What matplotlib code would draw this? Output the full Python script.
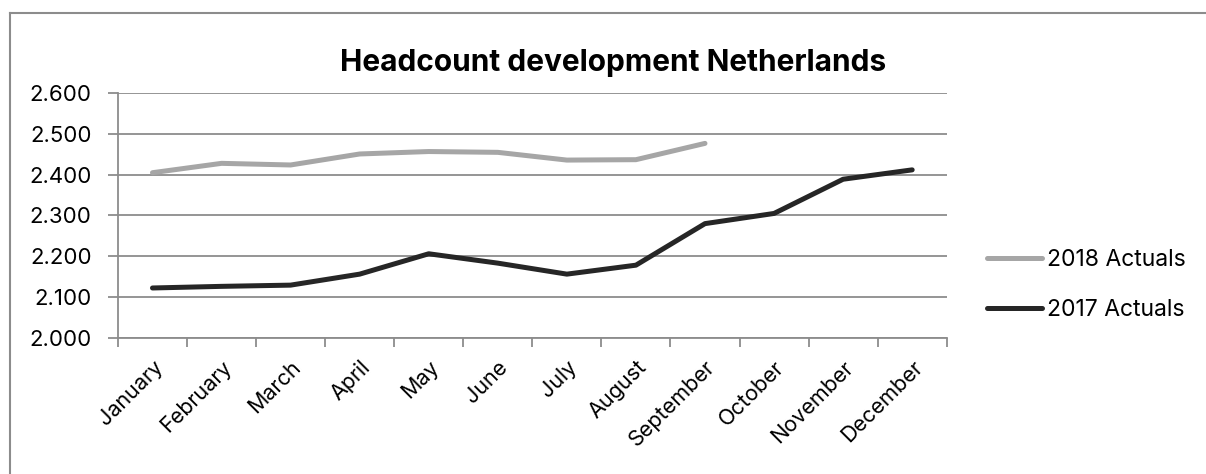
import matplotlib
matplotlib.use("Agg")
import matplotlib.pyplot as plt
from matplotlib.ticker import FuncFormatter, FixedLocator
from matplotlib.lines import Line2D

plt.rcParams['font.family'] = ['Inter', 'DejaVu Sans']

months = ["January", "February", "March", "April", "May", "June",
          "July", "August", "September", "October", "November", "December"]
actuals_2018 = [2405, 2428, 2424, 2451, 2457, 2455, 2436, 2437, 2477]
actuals_2017 = [2122, 2126, 2129, 2156, 2206, 2183, 2156, 2178, 2280, 2305, 2389, 2412]
y_ticks = [2000, 2100, 2200, 2300, 2400, 2500, 2600]

grid_col = "#8c8c8c"

fig = plt.figure(figsize=(12.06, 4.74), dpi=100)
ax = fig.add_axes([0.0978, 0.2876, 0.6872, 0.5156])

x17 = list(range(len(actuals_2017)))
x18 = list(range(len(actuals_2018)))
ax.plot(x18, actuals_2018, color="#a6a6a6", lw=3.6, solid_capstyle="round",
        solid_joinstyle="round", label="2018 Actuals", zorder=3)
ax.plot(x17, actuals_2017, color="#262626", lw=3.6, solid_capstyle="round",
        solid_joinstyle="round", label="2017 Actuals", zorder=3)

ax.set_xlim(-0.5, len(months) - 0.5)
ax.set_ylim(y_ticks[0], y_ticks[-1])
ax.yaxis.set_major_locator(FixedLocator(y_ticks))
ax.yaxis.set_major_formatter(FuncFormatter(lambda v, p: f"{int(v):,}".replace(",", ".")))
ax.grid(axis="y", color=grid_col, lw=1.3)
ax.set_axisbelow(True)

# category labels at centers, tick marks at the boundaries
ax.set_xticks(range(len(months)))
ax.set_xticklabels(months, rotation=45, ha="right", rotation_mode="anchor")
ax.tick_params(axis="x", which="major", length=0, pad=14, labelsize=15.5)
ax.set_xticks([i - 0.5 for i in range(len(months) + 1)], minor=True)
ax.tick_params(axis="x", which="minor", length=6.5, width=1.3, color=grid_col)
ax.tick_params(axis="y", length=7, width=1.3, color=grid_col, labelsize=16, pad=12)

for s in ["top", "right"]:
    ax.spines[s].set_visible(False)
for s in ["left", "bottom"]:
    ax.spines[s].set_color(grid_col)
    ax.spines[s].set_linewidth(1.3)

fig.text(0.508, 0.868, "Headcount development Netherlands", ha="center", va="center",
         fontsize=21.5, fontweight="bold")

fig.legend(loc="center left", bbox_to_anchor=(0.809, 0.399), frameon=False,
           fontsize=16.5, handlelength=2.4, handletextpad=0.2, labelspacing=1.2,
           borderpad=0)

# outer chart border (top and left edges are visible)
fig.add_artist(Line2D([0.0083, 1.0], [0.973, 0.973], color=grid_col, lw=1.5,
                      transform=fig.transFigure))
fig.add_artist(Line2D([0.0083, 0.0083], [0.0, 0.973], color=grid_col, lw=1.5,
                      transform=fig.transFigure))

fig.savefig("out.png", dpi=100)
